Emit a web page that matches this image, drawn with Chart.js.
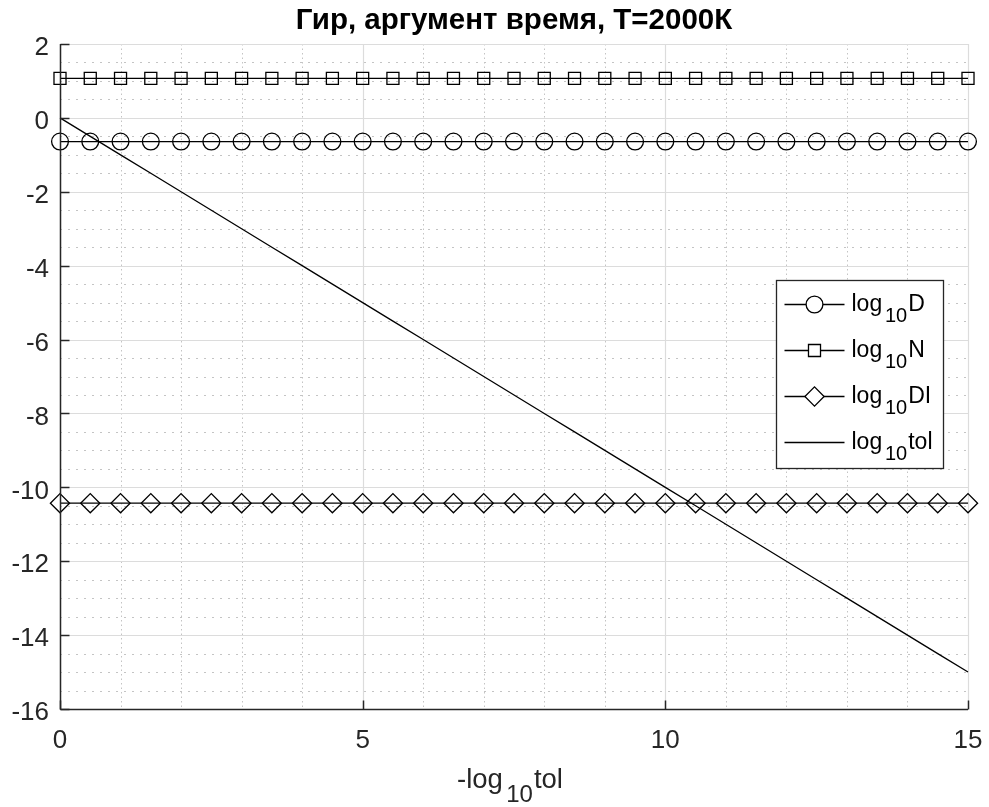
<!DOCTYPE html>
<html>
<head>
<meta charset="utf-8">
<script src="https://cdn.jsdelivr.net/npm/chart.js@4/dist/chart.umd.min.js"></script>
<style>
  html, body { margin: 0; padding: 0; background: #fff; }
  #plot { display: block; }
</style>
</head>
<body>
<canvas id="plot" width="989" height="807"></canvas>
<script>
// Гир, T=2000K: log10 of D, N, DI vs -log10 tol
const titleText = "Гир, аргумент время, Т=2000К";
const xTicks = [0, 5, 10, 15];
const yTicks = [2, 0, -2, -4, -6, -8, -10, -12, -14, -16];

const negLogTol = [0, 0.5, 1, 1.5, 2, 2.5, 3, 3.5, 4, 4.5, 5, 5.5, 6, 6.5, 7, 7.5,
                   8, 8.5, 9, 9.5, 10, 10.5, 11, 11.5, 12, 12.5, 13, 13.5, 14, 14.5, 15];
const logD = [-0.64, -0.64, -0.64, -0.64, -0.64, -0.64, -0.64, -0.64, -0.64, -0.64, -0.64,
              -0.64, -0.64, -0.64, -0.64, -0.64, -0.64, -0.64, -0.64, -0.64, -0.64,
              -0.64, -0.64, -0.64, -0.64, -0.64, -0.64, -0.64, -0.64, -0.64, -0.64];
const logN = [1.07, 1.07, 1.07, 1.07, 1.07, 1.07, 1.07, 1.07, 1.07, 1.07, 1.07,
              1.07, 1.07, 1.07, 1.07, 1.07, 1.07, 1.07, 1.07, 1.07, 1.07,
              1.07, 1.07, 1.07, 1.07, 1.07, 1.07, 1.07, 1.07, 1.07, 1.07];
const logDI = [-10.43, -10.43, -10.43, -10.43, -10.43, -10.43, -10.43, -10.43, -10.43, -10.43, -10.43,
               -10.43, -10.43, -10.43, -10.43, -10.43, -10.43, -10.43, -10.43, -10.43, -10.43,
               -10.43, -10.43, -10.43, -10.43, -10.43, -10.43, -10.43, -10.43, -10.43, -10.43];
const logTol = [0, -0.5, -1, -1.5, -2, -2.5, -3, -3.5, -4, -4.5, -5, -5.5, -6, -6.5, -7, -7.5,
                -8, -8.5, -9, -9.5, -10, -10.5, -11, -11.5, -12, -12.5, -13, -13.5, -14, -14.5, -15];

// legend names: base, subscript, suffix
const seriesNames = [
  ["log", "10", "D"],
  ["log", "10", "N"],
  ["log", "10", "DI"],
  ["log", "10", "tol"]
];
const seriesMarkers = ["circle", "rect", "rectRot", null];
const markerRadius = { circle: 8.4, rect: 8.5, rectRot: 9.6 };
const xLabelParts = ["-log", "10", "tol"];

const FONT = "'Liberation Sans', Arial, Helvetica, sans-serif";
const INK = "#262626";

function points(ys) {
  return negLogTol.map((x, i) => ({ x: x, y: ys[i] }));
}

function seg(ctx, x1, y1, x2, y2) {
  ctx.beginPath();
  ctx.moveTo(x1, y1);
  ctx.lineTo(x2, y2);
  ctx.stroke();
}

// open marker for the legend, same shapes as the chart's point styles
function legendMarker(ctx, kind, cx, cy) {
  const r = markerRadius[kind];
  ctx.beginPath();
  if (kind === "circle") {
    ctx.arc(cx, cy, r, 0, Math.PI * 2);
  } else if (kind === "rect") {
    const h = r * Math.SQRT1_2;
    ctx.rect(cx - h, cy - h, 2 * h, 2 * h);
  } else {
    ctx.moveTo(cx - r, cy);
    ctx.lineTo(cx, cy - r);
    ctx.lineTo(cx + r, cy);
    ctx.lineTo(cx, cy + r);
    ctx.closePath();
  }
  ctx.fillStyle = "#fff";
  ctx.fill();
  ctx.stroke();
}

// text like "log_{10}D": returns the width, draws when draw=true
function subText(ctx, parts, x, y, size, subSize, subDrop, draw) {
  const gap = size * 0.12;
  ctx.font = size + "px " + FONT;
  const w0 = ctx.measureText(parts[0]).width;
  if (draw) ctx.fillText(parts[0], x, y);
  ctx.font = subSize + "px " + FONT;
  const w1 = ctx.measureText(parts[1]).width;
  if (draw) ctx.fillText(parts[1], x + w0 + gap, y + subDrop);
  ctx.font = size + "px " + FONT;
  const w2 = ctx.measureText(parts[2]).width;
  if (draw) ctx.fillText(parts[2], x + w0 + gap + w1 + 1, y);
  return w0 + gap + w1 + 1 + w2;
}

const matlabAxes = {
  id: "matlabAxes",
  beforeDatasetsDraw(chart) {
    const { ctx, chartArea: a, scales: { x, y } } = chart;
    ctx.save();
    ctx.lineWidth = 1;
    // minor grid, dotted
    ctx.strokeStyle = "#c4c4c4";
    ctx.setLineDash([1.5, 3]);
    for (let v = 0; v <= 15; v++) {
      if (v % 5 === 0) continue;
      const px = Math.round(x.getPixelForValue(v)) + 0.5;
      seg(ctx, px, a.top, px, a.bottom);
    }
    ctx.setLineDash([2, 6]);
    for (let k = -32; k <= 4; k++) {
      if (k % 4 === 0) continue;
      const py = Math.round(y.getPixelForValue(k / 2)) + 0.5;
      seg(ctx, a.left, py, a.right, py);
    }
    // major grid, solid
    ctx.setLineDash([]);
    ctx.strokeStyle = "#dcdcdc";
    ctx.lineWidth = 1.2;
    xTicks.forEach(v => {
      const px = Math.round(x.getPixelForValue(v)) + 0.5;
      seg(ctx, px, a.top, px, a.bottom);
    });
    yTicks.forEach(v => {
      const py = Math.round(y.getPixelForValue(v)) + 0.5;
      seg(ctx, a.left, py, a.right, py);
    });
    ctx.restore();
  },
  afterDatasetsDraw(chart) {
    const { ctx, chartArea: a, scales: { x, y } } = chart;
    ctx.save();
    // left and bottom axis lines with inward ticks
    ctx.strokeStyle = INK;
    ctx.lineWidth = 1.5;
    const left = Math.round(a.left) + 0.5;
    const bottom = Math.round(a.bottom) + 0.5;
    seg(ctx, left, a.top, left, bottom);
    seg(ctx, left, bottom, a.right, bottom);
    xTicks.forEach(v => {
      const px = Math.round(x.getPixelForValue(v)) + 0.5;
      seg(ctx, px, bottom, px, bottom - 9);
    });
    yTicks.forEach(v => {
      const py = Math.round(y.getPixelForValue(v)) + 0.5;
      seg(ctx, left, py, left + 9, py);
    });

    // legend box, east side of the axes
    const boxW = 167, boxH = 188;
    const bx = Math.round(a.right - 25 - boxW) + 0.5;
    const by = Math.round((a.top + a.bottom) / 2 - boxH / 2 - 3) + 0.5;
    ctx.fillStyle = "#fff";
    ctx.fillRect(bx, by, boxW, boxH);
    ctx.strokeStyle = INK;
    ctx.lineWidth = 1.3;
    ctx.strokeRect(bx, by, boxW, boxH);
    ctx.textBaseline = "alphabetic";
    ctx.textAlign = "left";
    seriesNames.forEach((parts, i) => {
      const ry = Math.round(by + 23 + i * 46.3) + 0.5;
      ctx.strokeStyle = "#000";
      ctx.lineWidth = 1.3;
      seg(ctx, bx + 8, ry, bx + 68, ry);
      if (seriesMarkers[i]) legendMarker(ctx, seriesMarkers[i], bx + 38, ry);
      ctx.fillStyle = "#000";
      subText(ctx, parts, bx + 75, ry + 6, 23, 20, 11, true);
    });

    // x-axis label
    ctx.fillStyle = INK;
    const w = subText(ctx, xLabelParts, 0, 0, 27.5, 24, 14, false);
    subText(ctx, xLabelParts, (a.left + a.right) / 2 - 4 - w / 2, 788, 27.5, 24, 14, true);
    ctx.restore();
  }
};

function series(label, ys, marker) {
  return {
    label: label,
    data: points(ys),
    borderColor: "#000",
    borderWidth: 1.3,
    backgroundColor: "transparent",
    pointBorderColor: "#000",
    pointBorderWidth: 1.3,
    pointBackgroundColor: "transparent",
    pointStyle: marker || "circle",
    pointRadius: marker ? markerRadius[marker] : 0,
    pointHoverRadius: marker ? markerRadius[marker] : 0,
    clip: false
  };
}

new Chart(document.getElementById("plot"), {
  type: "line",
  data: {
    datasets: [
      series("log10 D", logD, seriesMarkers[0]),
      series("log10 N", logN, seriesMarkers[1]),
      series("log10 DI", logDI, seriesMarkers[2]),
      series("log10 tol", logTol, seriesMarkers[3])
    ]
  },
  options: {
    responsive: false,
    devicePixelRatio: 1,
    animation: false,
    events: [],
    layout: { padding: { left: 0, right: 21, top: 0, bottom: 0 } },
    plugins: {
      legend: { display: false },
      tooltip: { enabled: false },
      title: {
        display: true,
        text: titleText,
        fullSize: false,
        color: "#000",
        font: { family: FONT, size: 29.5, weight: "bold" },
        padding: { top: 3, bottom: 5.6 }
      }
    },
    scales: {
      x: {
        type: "linear",
        min: 0,
        max: 15,
        grid: { display: false, drawTicks: false },
        border: { display: false },
        afterBuildTicks: s => { s.ticks = xTicks.map(v => ({ value: v })); },
        afterFit: s => { s.height = 98; s.paddingLeft = 0; s.paddingRight = 0; },
        ticks: {
          autoSkip: false,
          maxRotation: 0,
          padding: 16,
          color: INK,
          font: { family: FONT, size: 26 },
          callback: v => String(v)
        }
      },
      y: {
        type: "linear",
        min: -16,
        max: 2,
        grid: { display: false, drawTicks: false },
        border: { display: false },
        afterBuildTicks: s => { s.ticks = yTicks.map(v => ({ value: v })); },
        afterFit: s => { s.width = 60; s.paddingTop = 0; s.paddingBottom = 0; },
        ticks: {
          autoSkip: false,
          padding: 11,
          labelOffset: 4,
          color: INK,
          font: { family: FONT, size: 26 },
          callback: v => String(v)
        }
      }
    }
  },
  plugins: [matlabAxes]
});
</script>
</body>
</html>
